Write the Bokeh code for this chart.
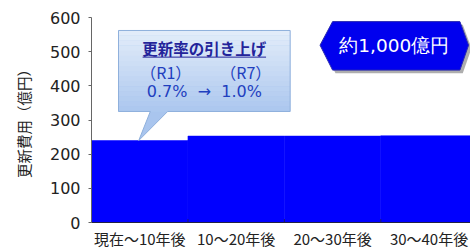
from bokeh.plotting import figure
from bokeh.models import FixedTicker, ColumnDataSource
from bokeh.core.properties import value
from bokeh.embed import file_html
from bokeh.resources import INLINE

categories = ["現在～10年後", "10～20年後", "20～30年後", "30～40年後"]
costs = [240, 253, 253, 254]
y_ticks = [0, 100, 200, 300, 400, 500, 600]
y_title = "更新費用（億円）"
callout_title = "更新率の引き上げ"
callout_years = ["（R1）", "（R7）"]
callout_rates = "0.7%\u00a0\u00a0→\u00a0\u00a01.0%"
total_label = "約1,000億円"

FONT = "DejaVu Sans"
CJK = "Noto Sans CJK JP"
n = len(categories)
centers = [i + 0.5 for i in range(n)]

p = figure(width=470, height=251, output_backend="svg", toolbar_location=None,
           x_range=(0, 3.93), y_range=(0, 600),
           min_border_left=91, min_border_right=0, min_border_top=17, min_border_bottom=27)
p.outline_line_color = None
p.xgrid.visible = False
p.ygrid.visible = False
p.background_fill_color = "white"
p.border_fill_color = "white"

src = ColumnDataSource(dict(x=centers, top=costs))
p.vbar(x="x", top="top", width=1.0, bottom=0, source=src,
       fill_color="#0000ff", line_color="#0000ff", line_width=0.5)

# category boundary ticks (inside)
p.segment(x0=list(range(1, n)), x1=list(range(1, n)), y0=[0] * (n - 1), y1=[10] * (n - 1),
          line_color="#1a1a6a", line_width=1)

# axes
p.xaxis.ticker = FixedTicker(ticks=centers)
p.xaxis.major_label_overrides = {c: lab for c, lab in zip(centers, categories)}
p.xaxis.major_tick_line_color = None
p.xaxis.major_tick_out = 0
p.xaxis.major_tick_in = 0
p.xaxis.axis_line_color = "#222244"
p.xaxis.major_label_text_font = CJK
p.xaxis.major_label_text_font_size = "15px"
p.xaxis.major_label_text_color = "#222222"
p.xaxis.major_label_standoff = 5

p.yaxis.ticker = FixedTicker(ticks=y_ticks)
p.yaxis.axis_line_color = "#666666"
p.yaxis.major_tick_line_color = "#666666"
p.yaxis.major_tick_out = 3
p.yaxis.major_tick_in = 0
p.yaxis.minor_tick_line_color = None
p.yaxis.major_label_text_font = FONT
p.yaxis.major_label_text_font_size = "16px"
p.yaxis.major_label_text_color = "#222222"
p.yaxis.major_label_standoff = 8
p.yaxis.axis_label = y_title
p.yaxis.axis_label_text_font = CJK
p.yaxis.axis_label_text_font_size = "14.5px"
p.yaxis.axis_label_text_font_style = "normal"
p.yaxis.axis_label_text_color = "#222222"
p.yaxis.axis_label_standoff = 13

# callout box with tail (data coords), vertical gradient approximated with bands
bx0, bx1, by0, by1 = 0.28, 2.06, 325, 562
tip_x, tip_y = 0.49, costs[0]
cx = [bx0, bx1, bx1, 0.79, tip_x, 0.61, bx0]
cy = [by1, by1, by0, by0, tip_y, by0, by0]
p.patch(cx, cy, fill_color="#a9c5ee", line_color=None)
top_rgb = (0xe2, 0xec, 0xf9)
bot_rgb = (0xad, 0xc8, 0xef)
nb = 16
for i in range(nb):
    t = i / (nb - 1)
    col = "#%02x%02x%02x" % tuple(int(round(a + (b - a) * t)) for a, b in zip(top_rgb, bot_rgb))
    yt = by1 - (by1 - by0) * i / nb
    yb = by1 - (by1 - by0) * (i + 1) / nb
    p.quad(left=bx0, right=bx1, bottom=yb - 0.5, top=yt, fill_color=col, line_color=None)
p.patch(cx, cy, fill_color=None, line_color="#8fb0dc", line_width=1)

p.text(x=[1.17], y=[512], text=[callout_title], text_font=value(CJK),
       text_font_size="15.5px", text_font_style="bold", text_color="#23239a",
       text_align="center", text_baseline="middle")
p.segment(x0=[0.53], x1=[1.81], y0=[484], y1=[484], line_color="#23239a", line_width=1)
p.text(x=[0.77, 1.60], y=[440, 440], text=callout_years, text_font=value(CJK),
       text_font_size="16px", text_color="#1f3fbf",
       text_align="center", text_baseline="middle")
p.text(x=[1.17], y=[384], text=[callout_rates], text_font=value(FONT),
       text_font_size="16px", text_color="#1f3fbf",
       text_align="center", text_baseline="middle")

# hexagon label
hx = [2.37, 2.50, 3.82, 3.91, 3.82, 2.50]
hy = [519, 588, 588, 519, 446, 446]
dx, dy = 0.03, -9
p.patch([v + dx for v in hx], [v + dy for v in hy], fill_color="#9a9a9a", line_color=None, fill_alpha=0.8)
p.patch(hx, hy, fill_color="#0000ee", line_color="#2a2ab0", line_width=1)
p.text(x=[3.14], y=[518], text=[total_label], text_font=value(FONT),
       text_font_size="18.5px", text_color="white",
       text_align="center", text_baseline="middle")

open("out.html", "w").write(file_html(p, INLINE))
